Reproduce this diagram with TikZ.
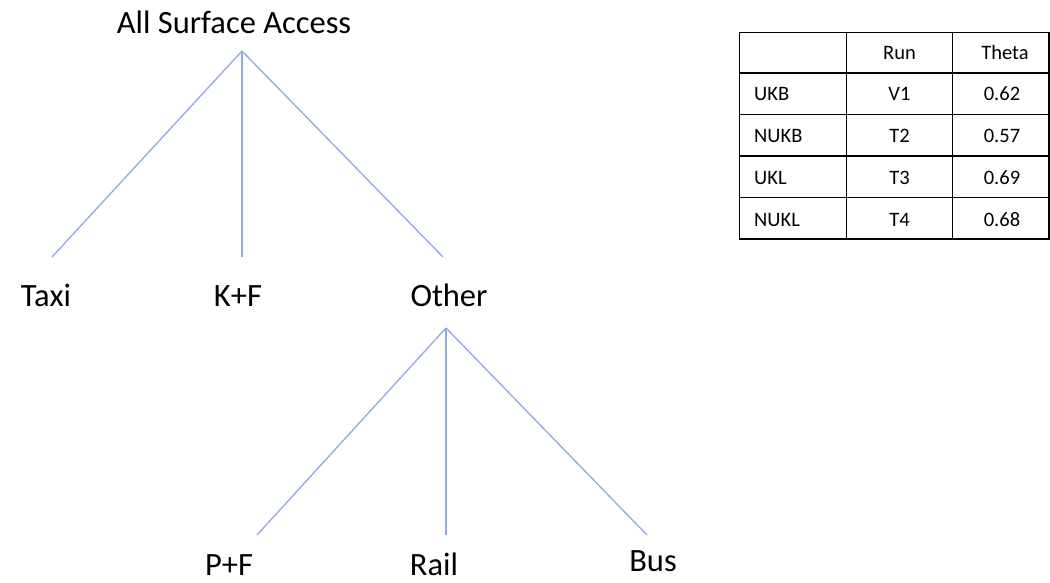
\documentclass[tikz,border=0pt]{standalone}
\usepackage{fontspec}
\setmainfont{Carlito}
\begin{document}
\begin{tikzpicture}[x=1pt,y=-1pt,
  lbl/.style={inner sep=0pt,anchor=base,font=\fontsize{32.5}{38}\selectfont},
  cell/.style={inner sep=0pt,anchor=base,font=\fontsize{20.5}{24}\selectfont},
  branch/.style={draw={rgb,255:red,143;green,170;blue,220}, line width=1.3pt},
  grid/.style={draw=black,line width=1.7pt}]
\useasboundingbox (0,0) rectangle (1050,583);
% tree 1
\node[lbl] (root) at (234,34) {All Surface Access};
\node[lbl] (taxi) at (46,306) {Taxi};
\node[lbl] (kf) at (238,306) {K+F};
\node[lbl] (other) at (449,306) {Other};
\coordinate (r0) at (242,51);
\coordinate (t0) at (52,257);
\coordinate (k0) at (242,257);
\coordinate (o0) at (443,257);
\draw[branch] (r0) -- (t0);
\draw[branch] (r0) -- (k0);
\draw[branch] (r0) -- (o0);
% tree 2
\node[lbl] (pf) at (229,575.5) {P+F};
\node[lbl] (rail) at (434,575.5) {Rail};
\node[lbl] (bus) at (653,571) {Bus};
\coordinate (o1) at (446,328);
\coordinate (p0) at (257,535);
\coordinate (ra0) at (446,535);
\coordinate (b0) at (647,535);
\draw[branch] (o1) -- (p0);
\draw[branch] (o1) -- (ra0);
\draw[branch] (o1) -- (b0);
% table
\draw[grid] (739.5,32.5) rectangle (1049,239);
\foreach \yy in {73,114.5,156,197.5} \draw[grid] (739.5,\yy) -- (1049,\yy);
\draw[grid] (846.5,32.5) -- (846.5,239);
\draw[grid] (952.5,32.5) -- (952.5,239);
\node[cell] (hrun) at (899.5,59.5) {Run};
\node[cell] (htheta) at (1005,59.5) {Theta};
\node[cell,anchor=base west] (a1) at (754,101) {UKB};
\node[cell] (b1) at (899.5,101) {V1};
\node[cell] (c1) at (1002,101) {0.62};
\node[cell,anchor=base west] (a2) at (754,142.6) {NUKB};
\node[cell] (b2) at (899.5,142.6) {T2};
\node[cell] (c2) at (1002,142.6) {0.57};
\node[cell,anchor=base west] (a3) at (754,184.3) {UKL};
\node[cell] (b3) at (899.5,184.3) {T3};
\node[cell] (c3) at (1002,184.3) {0.69};
\node[cell,anchor=base west] (a4) at (754,226) {NUKL};
\node[cell] (b4) at (899.5,226) {T4};
\node[cell] (c4) at (1002,226) {0.68};
\end{tikzpicture}
\end{document}
